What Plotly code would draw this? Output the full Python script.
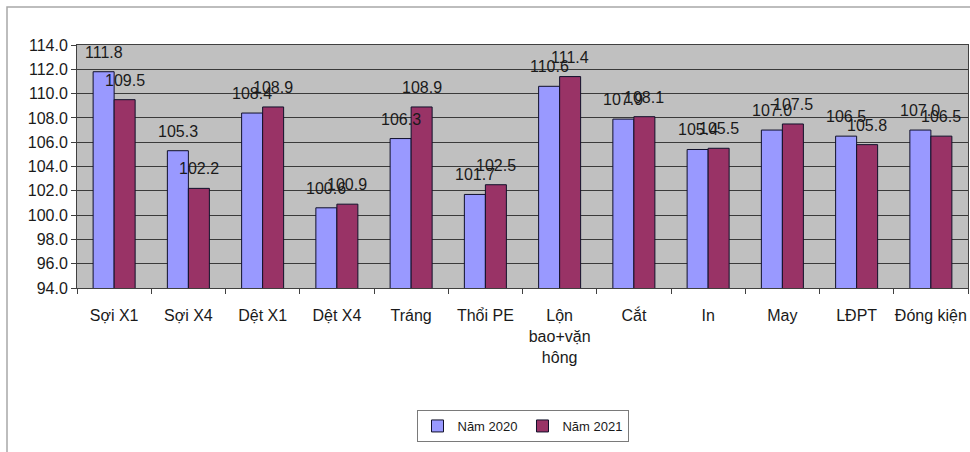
import plotly.graph_objects as go

# Categories (production stages) and index values per year
categories = ["Sợi X1", "Sợi X4", "Dệt X1", "Dệt X4", "Tráng", "Thổi PE",
              "Lộn<br>bao+vặn<br>hông", "Cắt", "In", "May", "LĐPT", "Đóng kiện"]
values_2020 = [111.8, 105.3, 108.4, 100.6, 106.3, 101.7, 110.6, 107.9, 105.4, 107.0, 106.5, 107.0]
values_2021 = [109.5, 102.2, 108.9, 100.9, 108.9, 102.5, 111.4, 108.1, 105.5, 107.5, 105.8, 106.5]
series_names = ["Năm 2020", "Năm 2021"]
y_ticks = [94.0, 96.0, 98.0, 100.0, 102.0, 104.0, 106.0, 108.0, 110.0, 112.0, 114.0]

W, H = 970, 452
M_L, M_R, M_T, M_B = 77, 2, 45, 164
BARGAP = 0.434
FONT = "Liberation Sans, Arial, sans-serif"
FS = 16
COL_2020 = "#9999FF"
COL_2021 = "#993366"

plot_w = W - M_L - M_R
plot_h = H - M_T - M_B
cat_w = plot_w / len(categories)
bar_w = cat_w * (1 - BARGAP) / 2

fig = go.Figure()
for name, vals, col in [(series_names[0], values_2020, COL_2020),
                        (series_names[1], values_2021, COL_2021)]:
    fig.add_trace(go.Bar(
        x=categories, y=vals, name=name,
        marker=dict(color=col, line=dict(color="#10102a", width=1)),
    ))

# value labels centred above each bar
for vals, side in [(values_2020, -1), (values_2021, 1)]:
    for cat, v in zip(categories, vals):
        fig.add_annotation(
            x=cat, y=v, text=f"{v:.1f}", showarrow=False,
            xanchor="center", yanchor="bottom",
            xshift=side * bar_w / 2, yshift=9,
            font=dict(family=FONT, size=FS, color="#1a1a1a"),
        )

# outer chart frame
fig.add_shape(
    type="rect", xref="paper", yref="paper",
    x0=(7 - M_L) / plot_w, x1=1 + 10 / plot_w,
    y0=-(M_B + 10) / plot_h, y1=1 + (M_T - 7) / plot_h,
    line=dict(color="#a8a8a8", width=1.5), layer="below",
)

fig.update_layout(
    width=W, height=H,
    margin=dict(l=M_L, r=M_R, t=M_T, b=M_B, pad=0, autoexpand=False),
    paper_bgcolor="white", plot_bgcolor="#C0C0C0",
    barmode="group", bargap=BARGAP, bargroupgap=0,
    font=dict(family=FONT, size=FS, color="#1a1a1a"),
    showlegend=True,
    legend=dict(
        orientation="h", x=0.5, xanchor="center",
        y=-(410 - (M_T + plot_h)) / plot_h, yanchor="top",
        bgcolor="white", bordercolor="#7a7a7a", borderwidth=1,
        font=dict(family=FONT, size=13, color="#1a1a1a"),
        itemwidth=30,
    ),
    xaxis=dict(
        tickson="boundaries", ticks="outside", ticklen=5, tickcolor="#404040",
        showline=True, linecolor="#404040", linewidth=1, mirror=True,
        showgrid=False, ticklabelstandoff=13, tickangle=0, automargin=False,
        tickfont=dict(family=FONT, size=FS),
    ),
    yaxis=dict(
        range=[94, 114], tickvals=y_ticks, tickformat=".1f",
        ticks="outside", ticklen=5, tickcolor="#404040",
        showline=True, linecolor="#404040", linewidth=1, mirror=True,
        showgrid=True, gridcolor="#3a3a3a", gridwidth=1, automargin=False,
        zeroline=False, tickfont=dict(family=FONT, size=FS),
    ),
)

fig.write_html("out.html")
